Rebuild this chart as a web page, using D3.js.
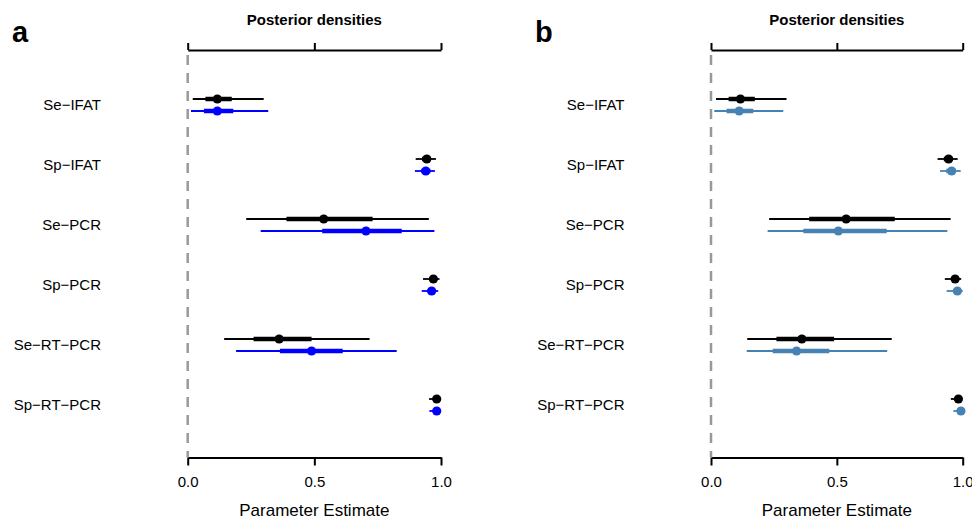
<!DOCTYPE html>
<html><head><meta charset="utf-8">
<script src="https://cdn.jsdelivr.net/npm/d3@7"></script>
<style>
body{margin:0;background:#fff;}
svg{display:block;font-family:"Liberation Sans",Arial,Helvetica,sans-serif;}
</style></head>
<body><svg id="chart" width="972" height="522"></svg>
<script>
const categories = ["Se\u2212IFAT","Sp\u2212IFAT","Se\u2212PCR","Sp\u2212PCR","Se\u2212RT\u2212PCR","Sp\u2212RT\u2212PCR"];
const xTicks = [0, 0.5, 1];
const tickLabels = ["0.0","0.5","1.0"];
const panelLetters = ["a","b"];
const topTitle = "Posterior densities";
const xTitle = "Parameter Estimate";

// black series (same model in both panels)
const blackMedian  = [0.117,0.944,0.537,0.970,0.361,0.983];
const blackInnerLo = [0.070,0.925,0.390,0.955,0.260,0.975];
const blackInnerHi = [0.174,0.960,0.730,0.982,0.489,0.990];
const blackOuterLo = [0.020,0.900,0.231,0.929,0.144,0.953];
const blackOuterHi = [0.300,0.980,0.952,0.994,0.718,0.995];

// panel a: blue series
const blueMedian  = [0.117,0.940,0.704,0.963,0.489,0.983];
const blueInnerLo = [0.064,0.922,0.531,0.948,0.364,0.975];
const blueInnerHi = [0.180,0.958,0.845,0.978,0.612,0.990];
const blueOuterLo = [0.013,0.897,0.288,0.924,0.191,0.954];
const blueOuterHi = [0.318,0.976,0.974,0.989,0.825,0.995];

// panel b: steelblue series
const steelMedian  = [0.112,0.956,0.506,0.979,0.340,0.993];
const steelInnerLo = [0.062,0.935,0.367,0.962,0.245,0.985];
const steelInnerHi = [0.168,0.972,0.698,0.992,0.470,0.998];
const steelOuterLo = [0.013,0.910,0.225,0.936,0.142,0.963];
const steelOuterHi = [0.287,0.992,0.939,1.000,0.700,1.000];

function series(color, med, iLo, iHi, oLo, oHi, off){
  return categories.map((c,i)=>({cat:c, color, off, med:med[i], iLo:iLo[i], iHi:iHi[i], oLo:oLo[i], oHi:oHi[i]}));
}

const panels = [
  {letter:panelLetters[0], x0:187.7, x1:441, labelRight:101, letterX:12,
   data:[series("#000000",blackMedian,blackInnerLo,blackInnerHi,blackOuterLo,blackOuterHi,-6),
         series("#0000FF",blueMedian,blueInnerLo,blueInnerHi,blueOuterLo,blueOuterHi,6)]},
  {letter:panelLetters[1], x0:711, x1:962.7, labelRight:624.5, letterX:535,
   data:[series("#000000",blackMedian,blackInnerLo,blackInnerHi,blackOuterLo,blackOuterHi,-6),
         series("#4682B4",steelMedian,steelInnerLo,steelInnerHi,steelOuterLo,steelOuterHi,6)]}
];

const svg = d3.select("#chart");
const y = d3.scalePoint().domain(categories).range([105, 405]);
const axisTopY = 50, axisBotY = 457.5;

panels.forEach(p=>{
  const x = d3.scaleLinear().domain([0,1]).range([p.x0,p.x1]);
  const g = svg.append("g");

  // panel letter
  g.append("text").attr("x",p.letterX).attr("y",42).attr("font-size",29).attr("font-weight","bold").text(p.letter);
  // top title
  g.append("text").attr("x",x(0.5)).attr("y",24.5).attr("text-anchor","middle").attr("font-size",15).attr("font-weight","bold").text(topTitle);

  // top axis
  const ta = g.append("g").attr("transform",`translate(0,${axisTopY})`)
    .call(d3.axisTop(x).tickValues(xTicks).tickSize(7).tickSizeOuter(0).tickFormat(""));
  ta.selectAll("path,line").attr("stroke","#000").attr("stroke-width",2);

  // bottom axis
  const ba = g.append("g").attr("transform",`translate(0,${axisBotY})`)
    .call(d3.axisBottom(x).tickValues(xTicks).tickSize(8).tickSizeOuter(0).tickPadding(11)
      .tickFormat((d,i)=>tickLabels[i]));
  ba.selectAll("path,line").attr("stroke","#000").attr("stroke-width",2);
  ba.selectAll("text").attr("font-size",15).attr("fill","#000").attr("font-family","Liberation Sans, Arial, sans-serif");
  g.append("text").attr("x",x(0.5)).attr("y",516).attr("text-anchor","middle").attr("font-size",17).text(xTitle);

  // dashed zero line
  g.append("line").attr("x1",x(0)).attr("x2",x(0)).attr("y1",55).attr("y2",axisBotY)
    .attr("stroke","#999").attr("stroke-width",2.5).attr("stroke-dasharray","10,8");

  // row labels
  g.selectAll("text.lab").data(categories).join("text").attr("class","lab")
    .attr("x",p.labelRight).attr("y",d=>y(d)+5).attr("text-anchor","end").attr("font-size",15).text(d=>d);

  p.data.forEach(s=>{
    const sg = g.append("g");
    sg.selectAll("line.outer").data(s).join("line").attr("class","outer")
      .attr("x1",d=>x(d.oLo)).attr("x2",d=>x(d.oHi)).attr("y1",d=>y(d.cat)+d.off).attr("y2",d=>y(d.cat)+d.off)
      .attr("stroke",s[0].color).attr("stroke-width",1.8);
    sg.selectAll("line.inner").data(s).join("line").attr("class","inner")
      .attr("x1",d=>x(d.iLo)).attr("x2",d=>x(d.iHi)).attr("y1",d=>y(d.cat)+d.off).attr("y2",d=>y(d.cat)+d.off)
      .attr("stroke",s[0].color).attr("stroke-width",4.5);
    sg.selectAll("circle").data(s).join("circle")
      .attr("cx",d=>x(d.med)).attr("cy",d=>y(d.cat)+d.off).attr("r",4.6).attr("fill",s[0].color);
  });
});
</script></body></html>
